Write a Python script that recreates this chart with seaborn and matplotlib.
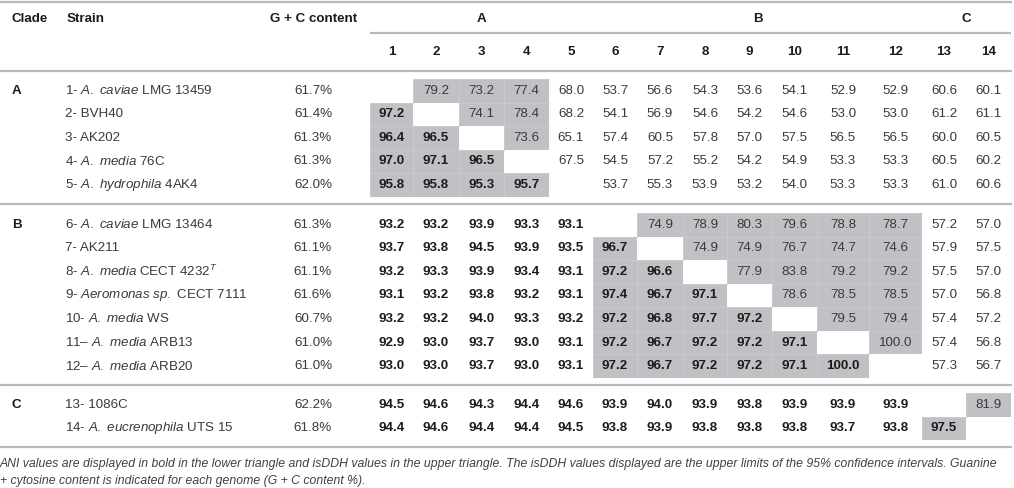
import numpy as np
import matplotlib
matplotlib.use("Agg")
import matplotlib.pyplot as plt
from matplotlib.colors import ListedColormap
import seaborn as sns

# ---------------------------------------------------------------
# data
# ---------------------------------------------------------------
clades = ["A", "B", "C"]
clade_sizes = [5, 7, 2]

strains = [
    r"1- $\mathit{A.}$ $\mathit{caviae}$ LMG 13459",
    r"2- BVH40",
    r"3- AK202",
    r"4- $\mathit{A.}$ $\mathit{media}$ 76C",
    r"5- $\mathit{A.}$ $\mathit{hydrophila}$ 4AK4",
    r"6- $\mathit{A.}$ $\mathit{caviae}$ LMG 13464",
    r"7- AK211",
    r"8- $\mathit{A.}$ $\mathit{media}$ CECT 4232$^{\mathit{T}}$",
    r"9- $\mathit{Aeromonas}$ $\mathit{sp.}$ CECT 7111",
    r"10- $\mathit{A.}$ $\mathit{media}$ WS",
    r"11– $\mathit{A.}$ $\mathit{media}$ ARB13",
    r"12– $\mathit{A.}$ $\mathit{media}$ ARB20",
    r"13- 1086C",
    r"14- $\mathit{A.}$ $\mathit{eucrenophila}$ UTS 15",
]

gc_content = ["61.7%", "61.4%", "61.3%", "61.3%", "62.0%", "61.3%", "61.1%",
              "61.1%", "61.6%", "60.7%", "61.0%", "61.0%", "62.2%", "61.8%"]

col_labels = [str(i) for i in range(1, 15)]

nan = np.nan
# lower triangle = ANI, upper triangle = isDDH
values = np.array([
    [nan, 79.2, 73.2, 77.4, 68.0, 53.7, 56.6, 54.3, 53.6, 54.1, 52.9, 52.9, 60.6, 60.1],
    [97.2, nan, 74.1, 78.4, 68.2, 54.1, 56.9, 54.6, 54.2, 54.6, 53.0, 53.0, 61.2, 61.1],
    [96.4, 96.5, nan, 73.6, 65.1, 57.4, 60.5, 57.8, 57.0, 57.5, 56.5, 56.5, 60.0, 60.5],
    [97.0, 97.1, 96.5, nan, 67.5, 54.5, 57.2, 55.2, 54.2, 54.9, 53.3, 53.3, 60.5, 60.2],
    [95.8, 95.8, 95.3, 95.7, nan, 53.7, 55.3, 53.9, 53.2, 54.0, 53.3, 53.3, 61.0, 60.6],
    [93.2, 93.2, 93.9, 93.3, 93.1, nan, 74.9, 78.9, 80.3, 79.6, 78.8, 78.7, 57.2, 57.0],
    [93.7, 93.8, 94.5, 93.9, 93.5, 96.7, nan, 74.9, 74.9, 76.7, 74.7, 74.6, 57.9, 57.5],
    [93.2, 93.3, 93.9, 93.4, 93.1, 97.2, 96.6, nan, 77.9, 83.8, 79.2, 79.2, 57.5, 57.0],
    [93.1, 93.2, 93.8, 93.2, 93.1, 97.4, 96.7, 97.1, nan, 78.6, 78.5, 78.5, 57.0, 56.8],
    [93.2, 93.2, 94.0, 93.3, 93.2, 97.2, 96.8, 97.7, 97.2, nan, 79.5, 79.4, 57.4, 57.2],
    [92.9, 93.0, 93.7, 93.0, 93.1, 97.2, 96.7, 97.2, 97.2, 97.1, nan, 100.0, 57.4, 56.8],
    [93.0, 93.0, 93.7, 93.0, 93.1, 97.2, 96.7, 97.2, 97.2, 97.1, 100.0, nan, 57.3, 56.7],
    [94.5, 94.6, 94.3, 94.4, 94.6, 93.9, 94.0, 93.9, 93.8, 93.9, 93.9, 93.9, nan, 81.9],
    [94.4, 94.6, 94.4, 94.4, 94.5, 93.8, 93.9, 93.8, 93.8, 93.8, 93.7, 93.8, 97.5, nan],
])

ani_cut = 95.0     # shaded ANI (lower triangle)
ddh_cut = 70.0     # shaded isDDH (upper triangle)

footnote = [
    "ANI values are displayed in bold in the lower triangle and isDDH values in the upper triangle. "
    "The isDDH values displayed are the upper limits of the 95% confidence intervals. Guanine",
    "+ cytosine content is indicated for each genome (G + C content %).",
]

# ---------------------------------------------------------------
# layout (pixel units)
# ---------------------------------------------------------------
W, H = 1014, 488
col_edges = np.array([370, 413, 459, 504, 549, 593, 637, 683, 727, 772, 817, 869, 922, 966, 1011])
col_w = np.diff(col_edges)
col_c = col_edges[:-1] + col_w / 2
block_top = [79, 213, 393]
row_h = 23.55
gray = "#c0c1c4"
line_c = "#b8b8b8"
txt_c = "#3a3a3a"
bold_c = "#1c1c1c"

sns.set_theme(style="white")
plt.rcParams["font.family"] = ["Liberation Sans", "DejaVu Sans"]
plt.rcParams["mathtext.fontset"] = "custom"
plt.rcParams["mathtext.rm"] = "Liberation Sans"
plt.rcParams["mathtext.it"] = "Liberation Sans:italic"
plt.rcParams["mathtext.bf"] = "Liberation Sans:bold"
fs = 9.6

fig = plt.figure(figsize=(W / 100, H / 100), dpi=100)

n = values.shape[0]
ii, jj = np.indices(values.shape)
shaded = ((ii > jj) & (values >= ani_cut)) | ((ii < jj) & (values >= ddh_cut))

# shaded cells, one heatmap per clade block
row_y = []
start = 0
for top, size in zip(block_top, clade_sizes):
    rows = slice(start, start + size)
    block = np.where(shaded[rows], 1.0, np.nan)
    wide = np.repeat(block, col_w, axis=1)
    hax = fig.add_axes([col_edges[0] / W, 1 - (top + size * row_h) / H,
                        (col_edges[-1] - col_edges[0]) / W, size * row_h / H])
    sns.heatmap(wide, mask=np.isnan(wide), cmap=ListedColormap([gray]), cbar=False,
                xticklabels=False, yticklabels=False, ax=hax)
    # faint cell separators inside the shaded blocks
    for r in range(size):
        for c in range(n):
            if shaded[start + r, c]:
                x0 = col_edges[c] - col_edges[0]
                hax.plot([x0, x0 + col_w[c]], [r, r], color="#cbccce", lw=0.6)
                hax.plot([x0, x0], [r, r + 1], color="#cbccce", lw=0.6)
    hax.axis("off")
    row_y += [top + (k + 0.5) * row_h for k in range(size)]
    start += size

# text / rules overlay
ax = fig.add_axes([0, 0, 1, 1])
ax.set_xlim(0, W)
ax.set_ylim(H, 0)
ax.patch.set_alpha(0)
ax.axis("off")

ax.hlines([2, 71, 204, 385, 447], 0, W - 2, color=line_c, lw=1.6)
ax.hlines(33, col_edges[0], col_edges[-1], color=line_c, lw=1.6)

hdr = dict(fontsize=fs, fontweight="bold", color=bold_c, va="center")
ax.text(12, 19, "Clade", ha="left", **hdr)
ax.text(67, 19, "Strain", ha="left", **hdr)
ax.text(314, 19, "G + C content", ha="center", **hdr)

start = 0
for name, size in zip(clades, clade_sizes):
    x_mid = (col_edges[start] + col_edges[start + size]) / 2
    ax.text(x_mid, 19, name, ha="center", **hdr)
    ax.text(12, row_y[start], name, ha="left", **hdr)
    start += size

for c, lab in enumerate(col_labels):
    ax.text(col_c[c], 52, lab, ha="center", **hdr)

for r in range(n):
    ax.text(65, row_y[r], strains[r], ha="left", va="center", fontsize=fs, color=txt_c)
    ax.text(313, row_y[r], gc_content[r], ha="center", va="center", fontsize=fs, color=txt_c)
    for c in range(n):
        v = values[r, c]
        if np.isnan(v):
            continue
        if r > c:
            ax.text(col_c[c], row_y[r], f"{v:.1f}", ha="center", va="center",
                    fontsize=fs, fontweight="bold", color=bold_c)
        else:
            ax.text(col_c[c], row_y[r], f"{v:.1f}", ha="center", va="center",
                    fontsize=fs, color=txt_c)

for k, line in enumerate(footnote):
    ax.text(0, 464 + 17 * k, line, ha="left", va="center", fontsize=8.85,
            style="italic", color="#404040")

fig.savefig("out.png", dpi=100)
plt.close(fig)
